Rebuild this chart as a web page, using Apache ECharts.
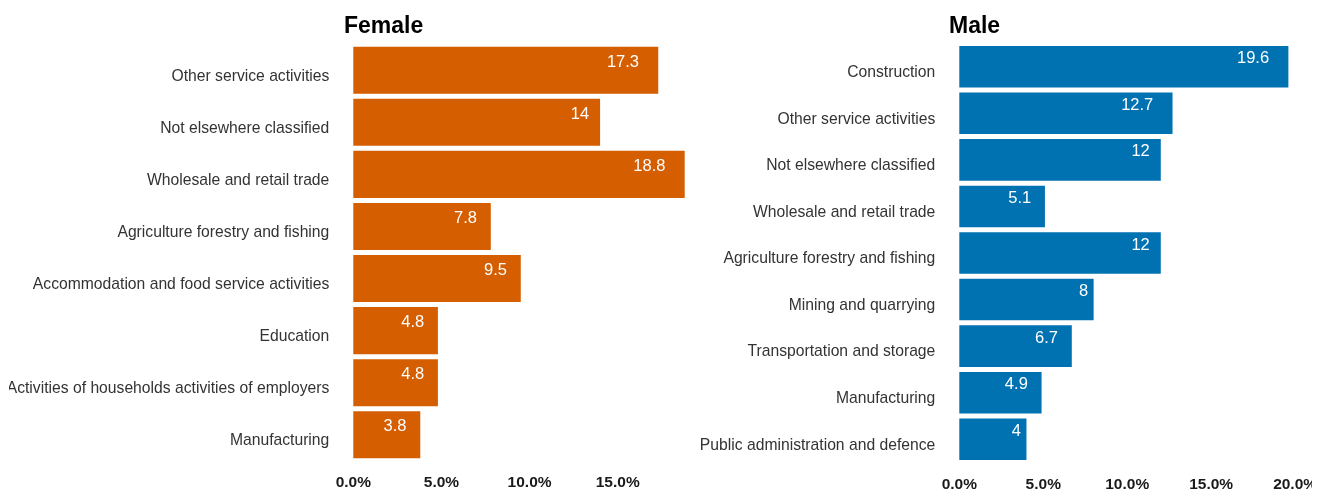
<!DOCTYPE html>
<html>
<head>
<meta charset="utf-8">
<script src="https://cdn.jsdelivr.net/npm/echarts@6/dist/echarts.min.js"></script>
<style>
  html, body { margin: 0; padding: 0; background: #ffffff; }
  #chart { position: absolute; left: 9px; top: 0; width: 1303px; height: 496px; }
</style>
</head>
<body>
<div id="chart"></div>
<script>
// Share of workers by industry, split by sex (percent)
const femaleCategories = [
  'Other service activities',
  'Not elsewhere classified',
  'Wholesale and retail trade',
  'Agriculture forestry and fishing',
  'Accommodation and food service activities',
  'Education',
  'Activities of households activities of employers',
  'Manufacturing'
];
const femaleValues = [17.3, 14, 18.8, 7.8, 9.5, 4.8, 4.8, 3.8];

const maleCategories = [
  'Construction',
  'Other service activities',
  'Not elsewhere classified',
  'Wholesale and retail trade',
  'Agriculture forestry and fishing',
  'Mining and quarrying',
  'Transportation and storage',
  'Manufacturing',
  'Public administration and defence'
];
const maleValues = [19.6, 12.7, 12, 5.1, 12, 8, 6.7, 4.9, 4];

const FONT = '"Liberation Sans", Arial, sans-serif';
const VALUE_FONT_SIZE = 16.5;

// measure a value label so it can sit a fixed fraction of its width inside the bar end
const measureCtx = document.createElement('canvas').getContext('2d');
measureCtx.font = VALUE_FONT_SIZE + 'px ' + FONT;
function withLabelOffsets(values) {
  return values.map(v => {
    const w = measureCtx.measureText(String(v)).width;
    return { value: v, label: { offset: [-0.6 * w, -8] } };
  });
}

function valueAxis(gridIndex, max, hideOffTicks) {
  return {
    type: 'value', gridIndex, min: 0, max, interval: 5,
    axisLine: { show: false }, axisTick: { show: false }, splitLine: { show: false },
    axisLabel: {
      margin: 14, color: '#1a1a1a', fontWeight: 'bold', fontSize: 15.5, fontFamily: FONT,
      formatter: v => (hideOffTicks && Math.abs(v % 5) > 1e-9) ? '' : v.toFixed(1) + '%'
    }
  };
}

function categoryAxis(gridIndex, cats) {
  return {
    type: 'category', gridIndex, data: cats, inverse: true,
    axisLine: { show: false }, axisTick: { show: false }, splitLine: { show: false },
    axisLabel: {
      margin: 24, color: '#333333', fontSize: 15.7, fontFamily: FONT,
      verticalAlign: 'top', lineHeight: 12
    }
  };
}

function barSeries(idx, values, color, gap) {
  return {
    type: 'bar', xAxisIndex: idx, yAxisIndex: idx,
    data: withLabelOffsets(values),
    barCategoryGap: gap,
    itemStyle: { color },
    label: {
      show: true, position: 'insideRight', distance: 0,
      color: '#ffffff', fontSize: VALUE_FONT_SIZE, fontFamily: FONT,
      formatter: '{c}'
    },
    silent: true, animation: false
  };
}

const chart = echarts.init(document.getElementById('chart'), null, { renderer: 'canvas' });
chart.setOption({
  animation: false,
  backgroundColor: '#ffffff',
  title: [
    { text: 'Female', left: 330, top: 10,
      textStyle: { fontSize: 23, fontWeight: 'bold', color: '#000000', fontFamily: FONT } },
    { text: 'Male', left: 935, top: 10,
      textStyle: { fontSize: 23, fontWeight: 'bold', color: '#000000', fontFamily: FONT } }
  ],
  grid: [
    { left: 344.3, top: 44.2, width: 331.4, height: 416.6, containLabel: false, outerBoundsMode: 'none' },
    { left: 950.3, top: 43.5, width: 335.8, height: 419, containLabel: false, outerBoundsMode: 'none' }
  ],
  xAxis: [valueAxis(0, 18.8, true), valueAxis(1, 20, false)],
  yAxis: [categoryAxis(0, femaleCategories), categoryAxis(1, maleCategories)],
  series: [
    barSeries(0, femaleValues, '#D55E00', '9.6%'),
    barSeries(1, maleValues, '#0072B2', '10.7%')
  ]
});
</script>
</body>
</html>
